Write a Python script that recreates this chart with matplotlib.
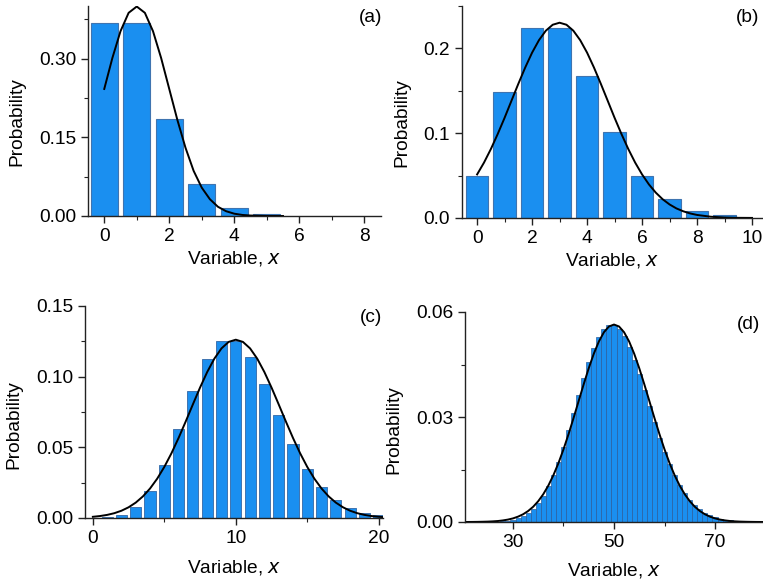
import matplotlib
matplotlib.use('Agg')
import matplotlib.pyplot as plt
from matplotlib.ticker import MultipleLocator, FormatStrFormatter

plt.rcParams['font.family'] = ['Liberation Sans', 'DejaVu Sans']
plt.rcParams['font.size'] = 13.8

BAR = '#1a8ff0'
EDGE = '#3f74b0'

# (a) distribution, mean 1
xa = [0, 1, 2, 3, 4, 5]
pa = [0.368, 0.368, 0.184, 0.061, 0.015, 0.003]
ca_x = [0, 0.25, 0.5, 0.75, 1, 1.25, 1.5, 1.75, 2, 2.25, 2.5, 2.75, 3, 3.25,
        3.5, 3.75, 4, 4.25, 4.5, 5, 5.5]
ca_y = [0.242, 0.301, 0.352, 0.387, 0.399, 0.387, 0.352, 0.301, 0.242, 0.183,
        0.130, 0.086, 0.054, 0.032, 0.0175, 0.0091, 0.0044, 0.0020, 0.0009,
        0.0001, 0.0]

# (b) distribution, mean 3
xb = [0, 1, 2, 3, 4, 5, 6, 7, 8, 9]
pb = [0.050, 0.149, 0.224, 0.224, 0.168, 0.101, 0.050, 0.022, 0.008, 0.003]
cb_x = [0, 0.25, 0.5, 0.75, 1, 1.25, 1.5, 1.75, 2, 2.25, 2.5, 2.75, 3, 3.25,
        3.5, 3.75, 4, 4.25, 4.5, 4.75, 5, 5.25, 5.5, 5.75, 6, 6.25, 6.5, 6.75,
        7, 7.25, 7.5, 7.75, 8, 8.5, 9, 9.5, 10]
cb_y = [0.0514, 0.0653, 0.0813, 0.0991, 0.1182, 0.1383, 0.1583, 0.1775, 0.1950,
        0.2097, 0.2209, 0.2279, 0.2303, 0.2279, 0.2209, 0.2097, 0.1950, 0.1775,
        0.1583, 0.1383, 0.1182, 0.0991, 0.0813, 0.0653, 0.0514, 0.0396, 0.0299,
        0.0221, 0.0160, 0.0113, 0.0079, 0.0054, 0.0036, 0.0015, 0.0006, 0.0002,
        0.0001]

# (c) distribution, mean 10
xc = list(range(0, 23))
pc = [0.00005, 0.0005, 0.0023, 0.0076, 0.0189, 0.0378, 0.0631, 0.0901, 0.1126,
      0.1251, 0.1251, 0.1137, 0.0948, 0.0729, 0.0521, 0.0347, 0.0217, 0.0128,
      0.0071, 0.0037, 0.0019, 0.0009, 0.0004]
cc_x = [0, 0.5, 1, 1.5, 2, 2.5, 3, 3.5, 4, 4.5, 5, 5.5, 6, 6.5, 7, 7.5, 8, 8.5,
        9, 9.5, 10, 10.5, 11, 11.5, 12, 12.5, 13, 13.5, 14, 14.5, 15, 15.5, 16,
        16.5, 17, 17.5, 18, 18.5, 19, 19.5, 20, 20.5]
cc_y = [0.00085, 0.00139, 0.00220, 0.00340, 0.00514, 0.00758, 0.01089, 0.01526,
        0.02085, 0.02780, 0.03615, 0.04583, 0.05669, 0.06838, 0.08044, 0.09230,
        0.10329, 0.11274, 0.12001, 0.12459, 0.12616, 0.12459, 0.12001, 0.11274,
        0.10329, 0.09230, 0.08044, 0.06838, 0.05669, 0.04583, 0.03615, 0.02780,
        0.02085, 0.01526, 0.01089, 0.00758, 0.00514, 0.00340, 0.00220, 0.00139,
        0.00085, 0.00051]

# (d) distribution, mean 50
xd = list(range(27, 76))
pd_ = [0.00013, 0.00023, 0.00041, 0.00068, 0.00109, 0.00171, 0.00259, 0.00380,
       0.00543, 0.00755, 0.01020, 0.01342, 0.01720, 0.02150, 0.02622, 0.03121,
       0.03629, 0.04124, 0.04583, 0.04981, 0.05299, 0.05520, 0.05633, 0.05633,
       0.05523, 0.05310, 0.05010, 0.04639, 0.04217, 0.03765, 0.03303, 0.02848,
       0.02413, 0.02011, 0.01648, 0.01329, 0.01055, 0.00824, 0.00634, 0.00480,
       0.00358, 0.00263, 0.00191, 0.00136, 0.00096, 0.00067, 0.00046, 0.00031,
       0.00021]
cd_x = list(range(20, 81))
cd_y = [0.0, 0.00001, 0.00002, 0.00004, 0.00007, 0.00011, 0.00018, 0.00028,
        0.00045, 0.00069, 0.00103, 0.00153, 0.00221, 0.00314, 0.00436, 0.00595,
        0.00795, 0.01041, 0.01337, 0.01682, 0.02076, 0.02510, 0.02975, 0.03456,
        0.03936, 0.04394, 0.04808, 0.05156, 0.05421, 0.05586, 0.05642, 0.05586,
        0.05421, 0.05156, 0.04808, 0.04394, 0.03936, 0.03456, 0.02975, 0.02510,
        0.02076, 0.01682, 0.01337, 0.01041, 0.00795, 0.00595, 0.00436, 0.00314,
        0.00221, 0.00153, 0.00103, 0.00069, 0.00045, 0.00028, 0.00018, 0.00011,
        0.00007, 0.00004, 0.00002, 0.00001, 0.0]

fig = plt.figure(figsize=(7.63, 5.84), dpi=100)
W, H = 763.0, 584.0


def make_ax(l, t, r, b):
    return fig.add_axes([l / W, 1 - b / H, (r - l) / W, (b - t) / H])


def panel_label(x, y, s):
    fig.text(x / W, 1 - y / H, s, ha='center', va='center')


def style(ax, major_y, minor_y, fmt, major_x, minor_x, pad):
    for s in ('top', 'right'):
        ax.spines[s].set_visible(False)
    for s in ('left', 'bottom'):
        ax.spines[s].set_linewidth(1.0)
        ax.spines[s].set_color('#222222')
    ax.yaxis.set_major_locator(MultipleLocator(major_y))
    ax.yaxis.set_minor_locator(MultipleLocator(minor_y))
    ax.yaxis.set_major_formatter(FormatStrFormatter(fmt))
    ax.xaxis.set_major_locator(MultipleLocator(major_x))
    ax.xaxis.set_minor_locator(MultipleLocator(minor_x))
    ax.tick_params(which='major', direction='out', length=5, width=1.0, color='#222222')
    ax.tick_params(which='minor', direction='out', length=3, width=0.8, color='#222222')
    ax.set_xlabel('Variable, $\\it{x}$', labelpad=pad)
    ax.set_ylabel('Probability')


# (a)
ax = make_ax(88, 6, 380.5, 216)
ax.bar(xa, pa, width=0.82, color=BAR, edgecolor=EDGE, linewidth=0.8)
ax.plot(ca_x, ca_y, color='black', lw=1.4)
ax.set_xlim(-0.5, 8.5)
ax.set_ylim(0, 0.40)
style(ax, 0.15, 0.075, '%.2f', 2, 1, 3)
ax.yaxis.set_label_coords(-0.215, 0.45)
panel_label(371, 18, '(a)')

# (b)
ax = make_ax(462, 6, 763, 218)
ax.bar(xb, pb, width=0.82, color=BAR, edgecolor=EDGE, linewidth=0.8)
ax.plot(cb_x, cb_y, color='black', lw=1.4)
ax.set_xlim(-0.55, 10.4)
ax.set_ylim(0, 0.25)
style(ax, 0.1, 0.05, '%.1f', 2, 1, 3)
ax.yaxis.set_label_coords(-0.17, 0.45)
panel_label(748, 18, '(b)')

# (c)
ax = make_ax(85, 306, 383, 518)
ax.bar(xc, pc, width=0.78, color=BAR, edgecolor=EDGE, linewidth=0.7)
ax.plot(cc_x, cc_y, color='black', lw=1.4)
ax.set_xlim(-0.55, 20.3)
ax.set_ylim(0, 0.15)
style(ax, 0.05, 0.025, '%.2f', 10, 5, 8)
ax.yaxis.set_label_coords(-0.21, 0.44)
panel_label(371, 318, '(c)')

# (d)
ax = make_ax(465, 312, 763, 522)
ax.bar(xd, pd_, width=1.0, color=BAR, edgecolor='#2a5f9e', linewidth=0.5)
ax.plot(cd_x, cd_y, color='black', lw=1.4)
ax.set_xlim(20.5, 79.5)
ax.set_ylim(0, 0.06)
style(ax, 0.03, 0.015, '%.2f', 20, 10, 7)
ax.xaxis.set_major_locator(MultipleLocator(20, offset=10))
ax.yaxis.set_label_coords(-0.21, 0.44)
panel_label(749, 325, '(d)')

fig.savefig('out.png', dpi=100)
